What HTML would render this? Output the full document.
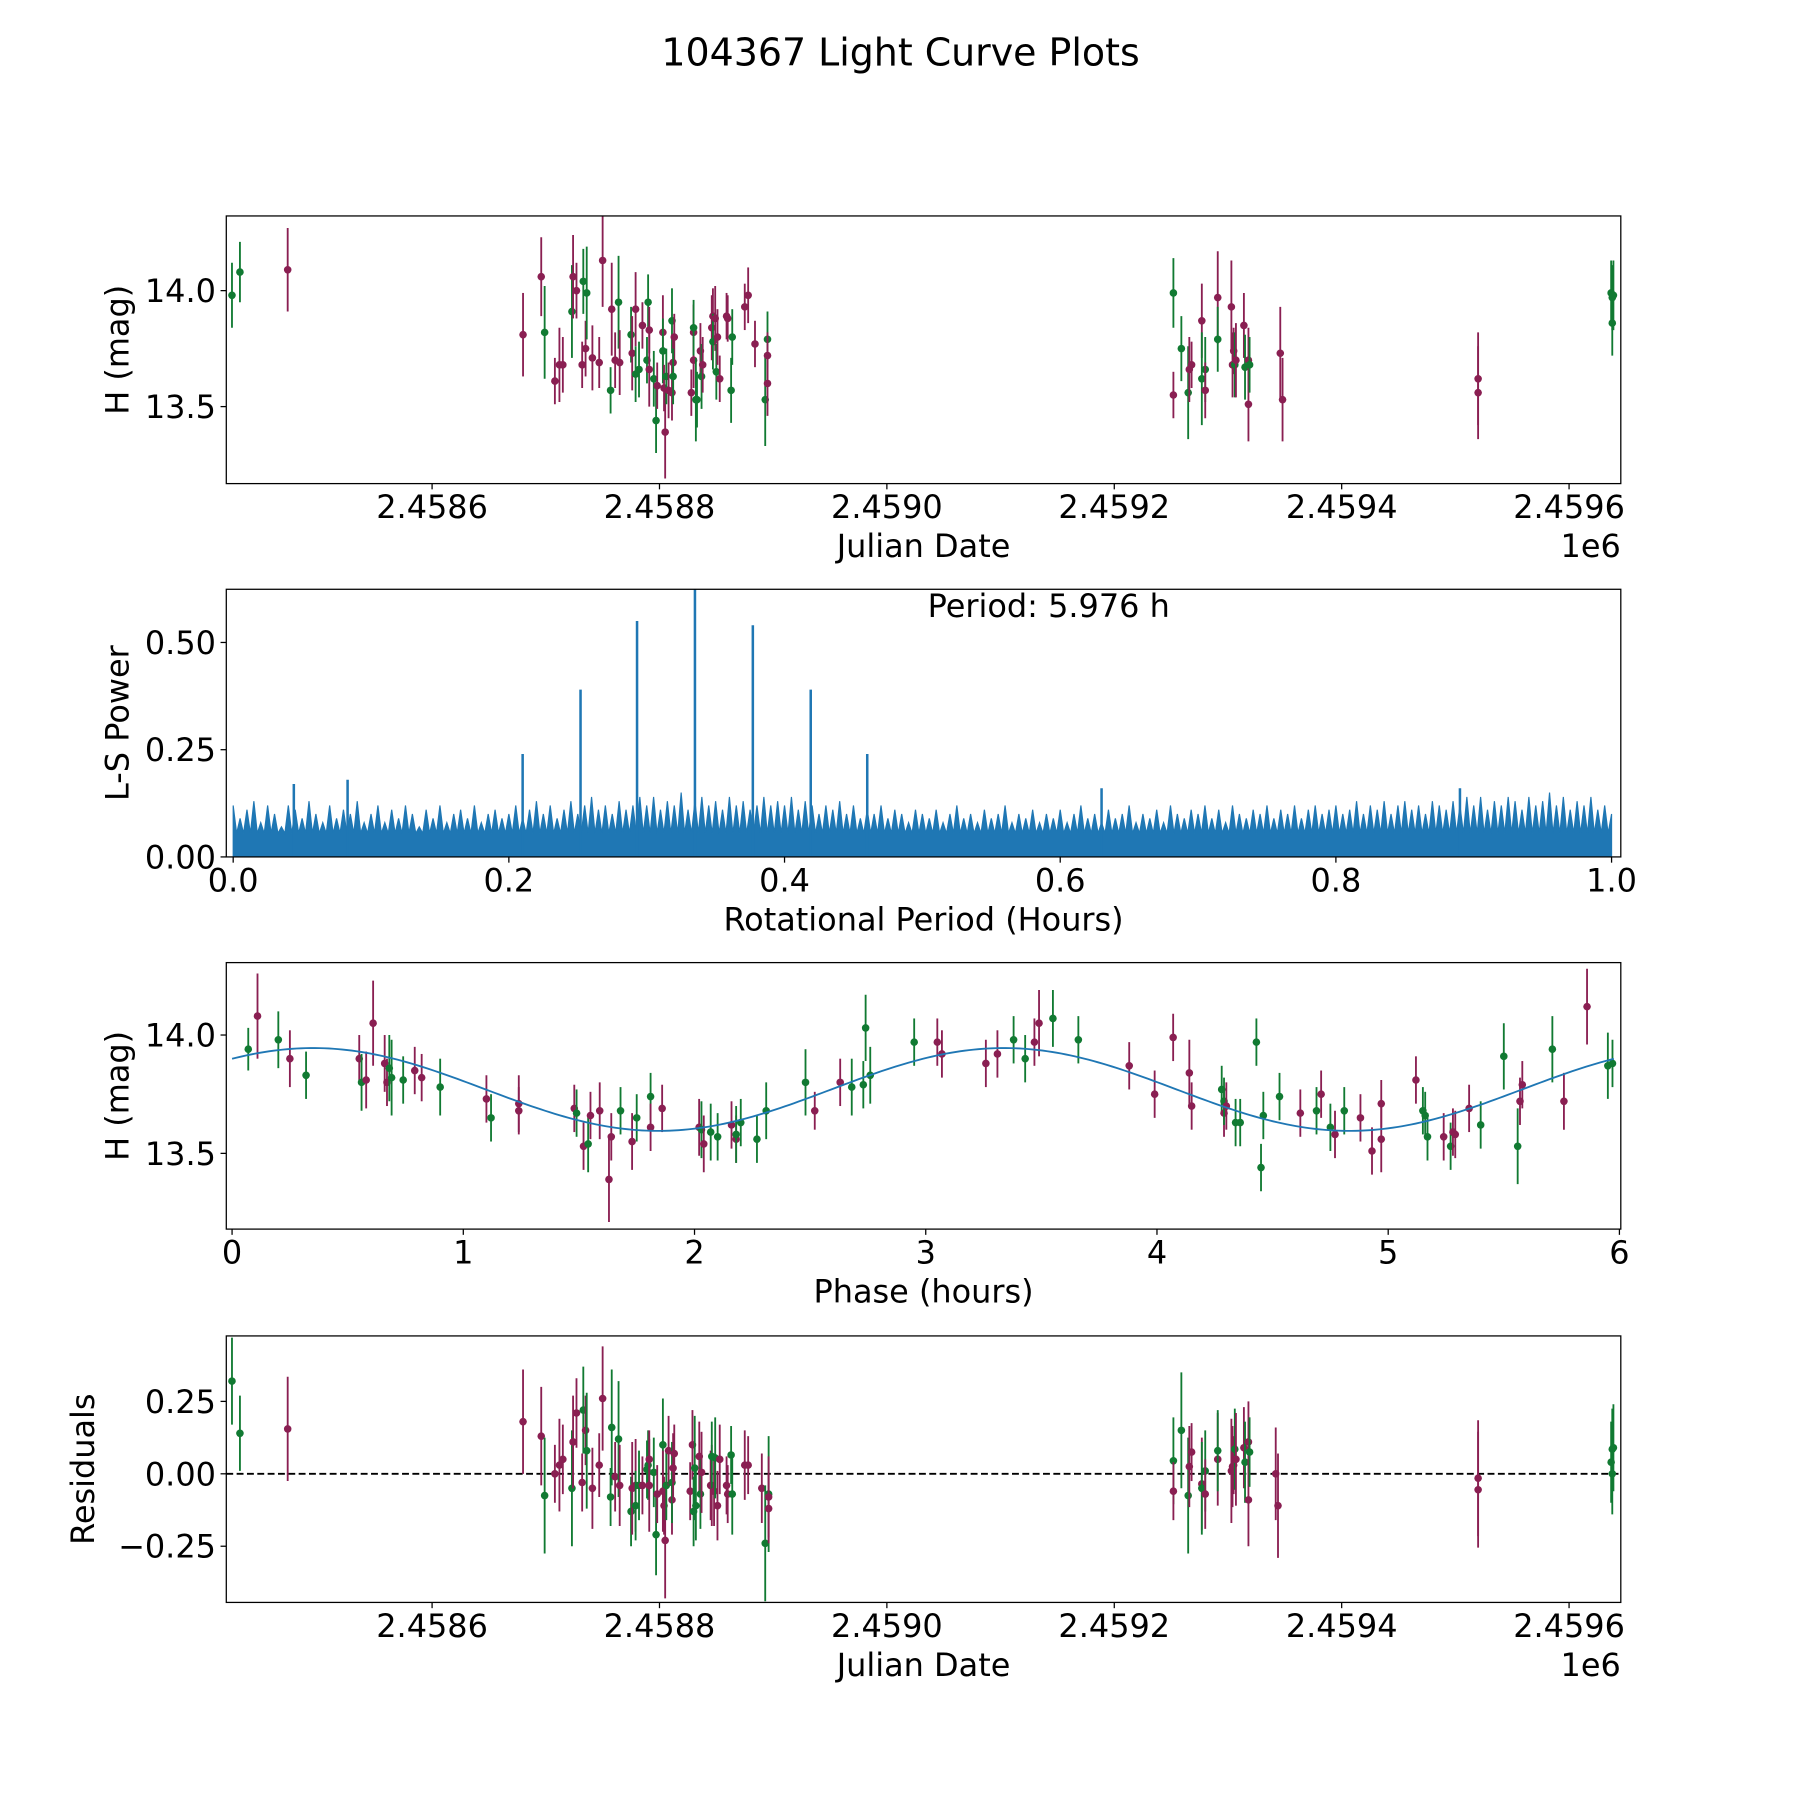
<!DOCTYPE html>
<html><head><meta charset="utf-8"><style>
html,body{margin:0;padding:0;background:#fff;width:1800px;height:1800px;overflow:hidden}
svg{display:block}
text{font-family:"DejaVu Sans","Liberation Sans",sans-serif;fill:#000}
</style></head><body>
<svg id="fig" width="1800" height="1800" viewBox="0 0 1567 1567" xmlns="http://www.w3.org/2000/svg">
<rect width="1567" height="1567" fill="#fff"/>
<text x="784" y="57" font-size="33" text-anchor="middle">104367 Light Curve Plots</text>
<text x="913" y="537" font-size="27.8" text-anchor="middle">Period: 5.976 h</text>
</svg>
<script>
// ---- Data ----
const jdOff=[-176,-169,-127,80,96,99,108,112,115,123,124,127,132,133,135,136,141,147,150,157,158,161,164,165,175,176,179,179,182,185,189,190,191,191,195,197,198,203,203,204,205,206,208,211,211,212,213,212,228,230,230,232,230,233,236,237,238,246,247,247,249,250,251,253,259,260,263,264,275,278,284,293,295,295,295,652,652,659,665,666,668,677,677,680,680,691,691,703,704,705,706,707,714,715,718,718,719,746,748,920,920,1037,1038,1038,1039];
const mag=[13.98,14.08,14.09,13.81,14.06,13.82,13.61,13.68,13.68,13.91,14.06,14.0,13.68,14.04,13.75,13.99,13.71,13.69,14.13,13.57,13.92,13.70,13.95,13.69,13.81,13.73,13.92,13.64,13.66,13.85,13.70,13.95,13.66,13.83,13.62,13.44,13.59,13.82,13.74,13.58,13.39,13.63,13.57,13.56,13.87,13.69,13.80,13.63,13.56,13.70,13.82,13.53,13.84,13.53,13.74,13.63,13.68,13.84,13.89,13.78,13.88,13.65,13.80,13.62,13.89,13.88,13.57,13.80,13.93,13.98,13.77,13.53,13.79,13.72,13.60,13.99,13.55,13.75,13.56,13.66,13.68,13.87,13.62,13.66,13.57,13.97,13.79,13.93,13.68,13.74,13.68,13.70,13.85,13.67,13.51,13.70,13.68,13.73,13.53,13.62,13.56,13.99,13.97,13.86,13.98];
const magErr=[0.14,0.13,0.18,0.18,0.17,0.2,0.1,0.16,0.12,0.2,0.18,0.12,0.1,0.14,0.12,0.2,0.14,0.11,0.2,0.1,0.2,0.12,0.2,0.14,0.12,0.16,0.16,0.12,0.12,0.1,0.1,0.12,0.16,0.1,0.12,0.14,0.1,0.16,0.14,0.1,0.2,0.12,0.12,0.12,0.14,0.12,0.1,0.12,0.1,0.12,0.12,0.18,0.12,0.12,0.12,0.14,0.12,0.14,0.12,0.12,0.14,0.12,0.12,0.1,0.1,0.1,0.14,0.12,0.1,0.12,0.1,0.2,0.12,0.1,0.14,0.15,0.1,0.14,0.2,0.14,0.1,0.16,0.2,0.14,0.12,0.2,0.14,0.2,0.14,0.1,0.14,0.16,0.14,0.14,0.16,0.14,0.12,0.2,0.18,0.2,0.2,0.14,0.14,0.14,0.15];
const filt=("ggp"+"ppgpppgppp"+"gpgpppgppg"+"pgppggpggp"+"pggppgppgp"+"pgppgpppgg"+"gpgpppgpgp"+"pppggpppgg"+"pp"+"gpggpppggp"+"pgpppgppgp"+"pgppppgggg").split('');
const resJdOff=[-176,-169,-127,80,96,99,108,112,115,123,124,127,132,133,135,136,141,147,150,157,158,161,164,165,175,176,179,179,182,185,189,190,191,191,195,197,198,203,203,204,205,206,208,211,211,212,213,227,229,230,231,232,235,236,237,245,246,246,248,249,251,253,259,260,263,264,275,278,290,293,296,296,296,652,652,659,665,666,668,677,677,680,680,691,691,703,704,705,706,707,714,715,718,718,719,742,744,920,920,1037,1038,1038,1039];
const resid=[0.32,0.14,0.155,0.18,0.13,-0.075,0.0,0.03,0.05,-0.05,0.11,0.21,-0.03,0.22,0.15,0.08,-0.05,0.03,0.26,-0.08,0.16,-0.01,0.12,-0.04,-0.13,-0.05,-0.04,-0.11,-0.04,-0.04,0.015,0.03,-0.04,0.05,0.005,-0.21,-0.07,0.10,-0.06,-0.11,-0.23,-0.04,0.08,-0.09,-0.03,0.02,0.07,-0.06,0.10,-0.13,0.02,-0.11,0.06,-0.07,0.005,-0.04,-0.04,0.06,-0.06,0.055,-0.11,0.05,-0.04,-0.07,0.065,-0.07,0.03,0.03,-0.05,-0.24,-0.07,-0.12,-0.08,0.045,-0.06,0.15,-0.075,0.025,0.075,-0.035,-0.05,0.01,-0.07,0.05,0.08,0.01,0.025,0.03,0.085,0.05,0.09,0.04,-0.09,0.11,0.075,0.0,-0.11,-0.015,-0.055,0.04,0.0,0.085,0.09];
const resErr=[0.15,0.13,0.18,0.18,0.17,0.2,0.1,0.16,0.12,0.2,0.16,0.12,0.1,0.15,0.12,0.2,0.14,0.11,0.18,0.1,0.2,0.12,0.2,0.14,0.12,0.16,0.16,0.12,0.12,0.1,0.1,0.12,0.16,0.1,0.12,0.14,0.1,0.16,0.14,0.1,0.2,0.12,0.12,0.12,0.14,0.12,0.1,0.1,0.12,0.12,0.18,0.12,0.12,0.12,0.14,0.12,0.14,0.12,0.12,0.14,0.12,0.12,0.1,0.1,0.1,0.14,0.12,0.1,0.12,0.2,0.2,0.12,0.14,0.15,0.1,0.2,0.2,0.14,0.1,0.16,0.16,0.14,0.12,0.16,0.14,0.18,0.14,0.1,0.14,0.16,0.14,0.14,0.16,0.14,0.12,0.16,0.18,0.2,0.2,0.14,0.14,0.14,0.15];
const resFilt=("ggpppgpppg"+"pppgpgpppg"+"gpgpgppggp"+"ggppggpgpp"+"pgppgppppg"+"ggpgpppgpg"+"ppppggpppg"+"gpp"+"gpggpppggp"+"pgpppgppgp"+"pgppppgggg").split('');
const phase=[0.07,0.11,0.20,0.25,0.32,0.55,0.56,0.58,0.61,0.66,0.67,0.68,0.69,0.74,0.79,0.82,0.90,1.10,1.12,1.24,1.24,1.48,1.49,1.52,1.54,1.55,1.59,1.63,1.64,1.68,1.73,1.75,1.81,1.81,1.86,2.02,2.03,2.04,2.07,2.10,2.16,2.18,2.18,2.20,2.27,2.31,2.48,2.52,2.63,2.68,2.73,2.74,2.76,2.95,3.05,3.07,3.26,3.31,3.38,3.43,3.47,3.49,3.55,3.66,3.88,3.99,4.07,4.14,4.15,4.28,4.29,4.29,4.30,4.34,4.36,4.43,4.45,4.46,4.53,4.62,4.69,4.71,4.75,4.77,4.81,4.88,4.93,4.97,4.97,5.12,5.15,5.16,5.17,5.24,5.27,5.28,5.29,5.35,5.40,5.50,5.56,5.57,5.58,5.71,5.76,5.86,5.95,5.97];
const phaseMag=[13.94,14.08,13.98,13.90,13.83,13.90,13.80,13.81,14.05,13.88,13.80,13.86,13.82,13.81,13.85,13.82,13.78,13.73,13.65,13.71,13.68,13.69,13.67,13.53,13.54,13.66,13.68,13.39,13.57,13.68,13.55,13.65,13.74,13.61,13.69,13.61,13.60,13.54,13.59,13.57,13.62,13.56,13.58,13.63,13.56,13.68,13.80,13.68,13.80,13.78,13.79,14.03,13.83,13.97,13.97,13.92,13.88,13.92,13.98,13.90,13.97,14.05,14.07,13.98,13.87,13.75,13.99,13.84,13.70,13.77,13.67,13.72,13.70,13.63,13.63,13.97,13.44,13.66,13.74,13.67,13.68,13.75,13.61,13.58,13.68,13.65,13.51,13.56,13.71,13.81,13.68,13.66,13.57,13.57,13.53,13.59,13.58,13.69,13.62,13.91,13.53,13.72,13.79,13.94,13.72,14.12,13.87,13.88];
const phaseFilt=("gpgpgpgppp"+"pgggppgpgp"+"ppgpgppppg"+"pggpppgpgg"+"ppgggggppg"+"ggggppppgg"+"ppggpppppg"+"pgpggggggp"+"gpgpgppppp"+"gggpgpppgg"+"gppgppgg").split('');
const phaseErr=[0.09,0.18,0.12,0.12,0.1,0.1,0.12,0.12,0.18,0.12,0.1,0.14,0.16,0.1,0.1,0.1,0.12,0.1,0.1,0.12,0.1,0.1,0.1,0.1,0.12,0.1,0.12,0.18,0.1,0.1,0.12,0.1,0.1,0.1,0.1,0.12,0.12,0.12,0.12,0.1,0.1,0.1,0.12,0.1,0.1,0.12,0.14,0.08,0.1,0.12,0.1,0.14,0.12,0.1,0.1,0.1,0.1,0.1,0.1,0.1,0.1,0.14,0.12,0.1,0.1,0.1,0.1,0.14,0.1,0.1,0.1,0.1,0.1,0.1,0.1,0.1,0.1,0.1,0.1,0.1,0.1,0.1,0.1,0.1,0.1,0.1,0.1,0.14,0.1,0.1,0.1,0.1,0.1,0.1,0.1,0.1,0.1,0.1,0.1,0.14,0.16,0.1,0.1,0.14,0.12,0.16,0.14,0.1];
const peakPeriod=[0.044,0.083,0.21,0.252,0.293,0.335,0.377,0.419,0.46,0.63,0.89];
const peakPower=[0.17,0.18,0.24,0.39,0.55,0.63,0.54,0.39,0.24,0.16,0.16];
const noiseTop=[
.12,.09,.11,.13,.08,.12,.10,.07,.12,.11,.09,.13,.10,.08,.12,.09,.11,.10,.13,.08,
.10,.12,.08,.11,.09,.12,.10,.07,.11,.09,.12,.08,.10,.11,.09,.12,.08,.10,.11,.09,
.10,.12,.09,.11,.13,.10,.12,.09,.11,.13,.10,.12,.14,.11,.12,.10,.13,.11,.12,.14,
.12,.14,.11,.13,.12,.15,.11,.13,.14,.12,.13,.11,.14,.12,.13,.11,.12,.14,.12,.13,
.12,.14,.11,.13,.12,.10,.12,.11,.13,.10,.12,.09,.11,.10,.12,.09,.11,.10,.08,.11,
.10,.09,.11,.08,.10,.12,.09,.10,.08,.11,.09,.10,.12,.08,.10,.09,.11,.08,.10,.09,
.11,.08,.10,.12,.09,.10,.08,.11,.09,.10,.12,.08,.10,.09,.11,.08,.12,.10,.09,.11,
.10,.12,.09,.11,.08,.12,.10,.09,.11,.10,.12,.09,.11,.10,.12,.09,.11,.12,.10,.11,
.12,.10,.11,.13,.10,.12,.11,.13,.10,.12,.13,.11,.12,.10,.13,.12,.11,.13,.12,.14,
.12,.14,.11,.13,.12,.14,.13,.11,.14,.12,.13,.15,.12,.14,.11,.13,.12,.14,.11,.12,
.10];
const noiseFloor=0.055;
const fitMean=13.77, fitAmp=0.175, fitPeak=0.35, fitHalfPeriod=2.988;
const jdTicks=[2458600,2458800,2459000,2459200,2459400,2459600];
const jdTickLabels=["2.4586","2.4588","2.4590","2.4592","2.4594","2.4596"];
const magTicks=[13.5,14.0], magTickLabels=["13.5","14.0"];
const powTicks=[0,0.25,0.5], powTickLabels=["0.00","0.25","0.50"];
const perTicks=[0,0.2,0.4,0.6,0.8,1.0], perTickLabels=["0.0","0.2","0.4","0.6","0.8","1.0"];
const phTicks=[0,1,2,3,4,5,6], phTickLabels=["0","1","2","3","4","5","6"];
const resTicks=[-0.25,0,0.25], resTickLabels=["\u22120.25","0.00","0.25"];

const NS="http://www.w3.org/2000/svg", svg=document.getElementById('fig');
const COL={g:"#117a32",p:"#8a1f52"}, BLUE="#1f77b4", FS=27.8;
function mk(tag,attrs,parent){const e=document.createElementNS(NS,tag);for(const k in attrs)e.setAttribute(k,attrs[k]);(parent||svg).appendChild(e);return e;}
const L=197,R=1411;
function scale(d0,d1,p0,p1){return v=>p0+(v-d0)/(d1-d0)*(p1-p0);}
function axes(name,top,bot,xs,ys,xt,xtl,yt,ytl,xlabel,ylabel,offset){
  const g=mk('g',{});
  
  
  const cp=mk('clipPath',{id:'c'+name},g);mk('rect',{x:L,y:top,width:R-L,height:bot-top},cp);
  const plot=mk('g',{'clip-path':'url(#c'+name+')'},g);
  xt.forEach((v,i)=>{const x=xs(v);mk('line',{x1:x,x2:x,y1:bot,y2:bot+5,stroke:'#000','stroke-width':1.1},g);
    const t=mk('text',{x:x,y:bot+30,'font-size':FS,'text-anchor':'middle'},g);t.textContent=xtl[i];
    
    });
  yt.forEach((v,i)=>{const y=ys(v);mk('line',{x1:L,x2:L-5,y1:y,y2:y,stroke:'#000','stroke-width':1.1},g);
    const t=mk('text',{x:L-9,y:y+10,'font-size':FS,'text-anchor':'end'},g);t.textContent=ytl[i];
    
    });
  const xl=mk('text',{x:(L+R)/2,y:bot+64,'font-size':FS,'text-anchor':'middle'},g);xl.textContent=xlabel;
  
  
  const yx=ylabel.x,yy=(top+bot)/2;
  const yl=mk('text',{x:yx,y:yy,'font-size':FS,'text-anchor':'middle',transform:`rotate(-90 ${yx} ${yy})`},g);yl.textContent=ylabel.t;
  
  
  if(offset){const o=mk('text',{x:R,y:bot+64,'font-size':FS,'text-anchor':'end'},g);o.textContent=offset;
    
    }
  mk('rect',{x:L,y:top,width:R-L,height:bot-top,fill:'none',stroke:'#000','stroke-width':1.1},g);
  return plot;
}
function errpt(parent,x,y,yl,yh,c){
  mk('line',{x1:x,x2:x,y1:yl,y2:yh,stroke:c,'stroke-width':1.6},parent);
  const d=mk('circle',{cx:x,cy:y,r:3.3,fill:c},parent);
  
  
}
function col(f){return COL[f]||COL.g;}
// Panel 1
const jx=scale(2458419,2459645.5,L,R);
const ys1=scale(13.168,14.322,421,188);
const p1=axes('light-curve-panel',188,421,jx,ys1,jdTicks,jdTickLabels,magTicks,magTickLabels,'Julian Date',{x:112,t:'H (mag)'},'1e6');
jdOff.forEach((o,i)=>{const jd=2458600+o,e=magErr[i]||0.14;errpt(p1,jx(jd),ys1(mag[i]),ys1(mag[i]-e),ys1(mag[i]+e),col(filt[i]));});
// Panel 2
const px=scale(-0.005,1.0067,L,R), py=scale(0,0.624,746,513);
const p2=axes('periodogram-panel',513,746,px,py,perTicks,perTickLabels,powTicks,powTickLabels,'Rotational Period (Hours)',{x:112,t:'L-S Power'});
let d='M'+px(0)+','+py(0);
noiseTop.forEach((v,i)=>{const p=i*0.005;d+=' L'+px(p)+','+py(v);if(i<noiseTop.length-1)d+=' L'+px(p+0.0025)+','+py(noiseFloor);});
d+=' L'+px(1)+','+py(0)+' Z';
const noise=mk('path',{d:d,fill:BLUE,stroke:BLUE,'stroke-width':1},p2);


peakPeriod.forEach((p,i)=>{const l=mk('line',{x1:px(p),x2:px(p),y1:py(0),y2:py(peakPower[i]),stroke:BLUE,'stroke-width':2.2},p2);
  
  });
// Panel 3
const phx=scale(-0.025,6.006,L,R), ys3=scale(13.18,14.306,1070,838);
const p3=axes('phased-curve-panel',838,1070,phx,ys3,phTicks,phTickLabels,magTicks,magTickLabels,'Phase (hours)',{x:112,t:'H (mag)'});
phase.forEach((p,i)=>{const e=phaseErr[i]||0.1;errpt(p3,phx(p),ys3(phaseMag[i]),ys3(phaseMag[i]-e),ys3(phaseMag[i]+e),col(phaseFilt[i]));});
let fd='';for(let k=0;k<=300;k++){const p=k*5.976/300;const v=fitMean+fitAmp*Math.cos(2*Math.PI*(p-fitPeak)/fitHalfPeriod);fd+=(k?' L':'M')+phx(p)+','+ys3(v);}
const fit=mk('path',{d:fd,fill:'none',stroke:BLUE,'stroke-width':1.6},p3);


// Panel 4
const ys4=scale(-0.444,0.476,1395,1163);
const p4=axes('residuals-panel',1163,1395,jx,ys4,jdTicks,jdTickLabels,resTicks,resTickLabels,'Julian Date',{x:82,t:'Residuals'},'1e6');
const zl=mk('line',{x1:L,x2:R,y1:ys4(0),y2:ys4(0),stroke:'#000','stroke-width':1.6,'stroke-dasharray':'6,3'},p4);


resJdOff.forEach((o,i)=>{const jd=2458600+o,e=resErr[i]||0.14;errpt(p4,jx(jd),ys4(resid[i]),ys4(resid[i]-e),ys4(resid[i]+e),col(resFilt[i]));});
</script>
</body></html>
